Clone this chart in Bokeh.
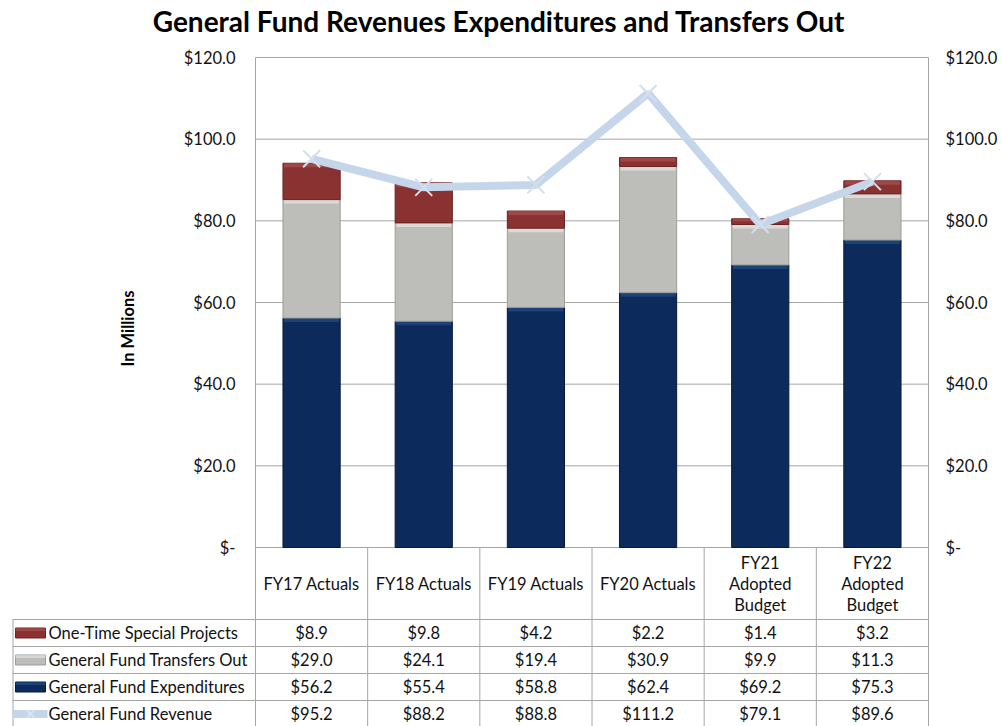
import math
from bokeh.plotting import figure
from bokeh.models import Range1d, FixedTicker, LinearAxis
from bokeh.core.properties import value
from bokeh.embed import file_html
from bokeh.resources import INLINE

# ---------------- data ----------------
categories = ["FY17 Actuals", "FY18 Actuals", "FY19 Actuals", "FY20 Actuals",
              "FY21\nAdopted\nBudget", "FY22\nAdopted\nBudget"]
one_time = [8.9, 9.8, 4.2, 2.2, 1.4, 3.2]
transfers = [29.0, 24.1, 19.4, 30.9, 9.9, 11.3]
expenditures = [56.2, 55.4, 58.8, 62.4, 69.2, 75.3]
revenue = [95.2, 88.2, 88.8, 111.2, 79.1, 89.6]
series_names = ["One-Time Special Projects", "General Fund Transfers Out",
                "General Fund Expenditures", "General Fund Revenue"]
y_ticks = [0, 20, 40, 60, 80, 100, 120]
y_tick_labels = ["$-", "$20.0", "$40.0", "$60.0", "$80.0", "$100.0", "$120.0"]
title_text = "General Fund Revenues Expenditures and Transfers Out"
y_label = "In Millions"

# ---------------- style / layout ----------------
FONT = "Lato"
FS = "16.5px"
RED, RED_HI, RED_DK = "#8A3232", "#B25A5A", "#6A2222"
GREY, GREY_HI, GREY_DK = "#BDBEBA", "#F2F2F0", "#9C9D99"
NAVY, NAVY_HI, NAVY_DK = "#0C2A5C", "#2E5590", "#061A3C"
LINE_BLUE = "#C6D6EA"
GRID = "#A6A6A6"
TXT = "#111111"

W, H = 1002, 726
n = len(categories)
U = 673 / n                  # px per category
PXU = 490 / 120              # px per value unit

def X(px):                   # page-x position -> data x (layout helper)
    return (px - 255) / U

def Y(py):                   # page-y position -> data y (layout helper)
    return (547 - py) / PXU

xs = [i + 0.5 for i in range(n)]
bar_w = 0.51
y_bot = Y(H)

p = figure(width=W, height=H, x_range=Range1d(X(0), X(W)),
           y_range=Range1d(y_bot, Y(0)), min_border=0, min_border_left=0,
           min_border_right=0, min_border_top=0, min_border_bottom=0,
           toolbar_location=None, output_backend="svg",
           x_axis_location=None, y_axis_location=None)
p.outline_line_color = None
p.xgrid.visible = False
p.ygrid.visible = False

overrides = {t: l for t, l in zip(y_ticks, y_tick_labels)}

def make_axis(loc, standoff):
    ax = LinearAxis(fixed_location=loc, bounds=(y_bot, 120))
    ax.ticker = FixedTicker(ticks=y_ticks)
    ax.major_label_overrides = overrides
    ax.axis_line_color = GRID
    ax.major_tick_line_color = None
    ax.minor_tick_line_color = None
    ax.major_tick_out = 0
    ax.major_tick_in = 0
    ax.major_label_standoff = standoff
    ax.major_label_text_font = FONT
    ax.major_label_text_font_size = FS
    ax.major_label_text_color = TXT
    return ax

p.add_layout(make_axis(0, 20), "left")
p.add_layout(make_axis(n, 17), "right")

# horizontal gridlines across the plot area
p.segment(x0=[0] * len(y_ticks), y0=y_ticks, x1=[n] * len(y_ticks),
          y1=y_ticks, line_color=GRID, line_width=1)

# stacked segments
b1 = [0.0] * n
t1 = expenditures
b2 = t1
t2 = [a + b for a, b in zip(t1, transfers)]
b3 = t2
t3 = [a + b for a, b in zip(t2, one_time)]

hi = 4 / PXU
for bot, top, col, hicol, dark in [(b1, t1, NAVY, NAVY_HI, NAVY_DK),
                                   (b2, t2, GREY, GREY_HI, GREY_DK),
                                   (b3, t3, RED, RED_HI, RED_DK)]:
    p.vbar(x=xs, bottom=bot, top=top, width=bar_w, fill_color=col,
           line_color=dark, line_width=1)
    hb = [max(t - min(hi, (t - b) * 0.45), b) for b, t in zip(bot, top)]
    p.vbar(x=xs, bottom=hb, top=top, width=bar_w - 0.02, fill_color=hicol,
           fill_alpha=0.55, line_color=None)

p.line(x=xs, y=revenue, line_width=8, line_color=LINE_BLUE)
p.scatter(x=xs, y=revenue, marker="x", size=24, line_color="#D3DFEE",
          line_width=2)

# title and axis title
p.text(x=[X(498.5)], y=[Y(20)], text=[title_text], text_font=value(FONT),
       text_font_size="28px", text_font_style="bold", text_align="center",
       text_baseline="middle", text_color="#000000")
p.text(x=[X(127)], y=[Y(328)], text=[y_label], angle=math.pi / 2,
       text_font=value(FONT), text_font_size="16.5px",
       text_font_style="bold", text_align="center", text_baseline="middle",
       text_color="#000000")

# ---------------- data table ----------------
row_edges = [Y(619), Y(646), Y(673), Y(700), Y(727)]
row_mid = [(a + b) / 2 for a, b in zip(row_edges[:-1], row_edges[1:])]

p.segment(x0=list(range(1, n)), y0=[0] * (n - 1), x1=list(range(1, n)),
          y1=[y_bot] * (n - 1), line_color=GRID, line_width=1)
p.segment(x0=[X(12.5)], y0=[row_edges[0]], x1=[X(12.5)], y1=[y_bot],
          line_color=GRID, line_width=1)
p.segment(x0=[X(12)] * 4, y0=row_edges[:4], x1=[n] * 4, y1=row_edges[:4],
          line_color=GRID, line_width=1)

# header: each category split into its lines, centred in the header cell
hdr_x, hdr_y, hdr_t = [], [], []
line_step = 21 / PXU
for i, cat in enumerate(categories):
    parts = cat.split("\n")
    k = len(parts)
    for j, part in enumerate(parts):
        hdr_x.append(xs[i])
        hdr_y.append(Y(583) - (j - (k - 1) / 2) * line_step)
        hdr_t.append(part)
p.text(x=hdr_x, y=hdr_y, text=hdr_t, text_font=value(FONT),
       text_font_size=FS, text_align="center", text_baseline="middle",
       text_color=TXT)

rows = [one_time, transfers, expenditures, revenue]
for r, vals in enumerate(rows):
    p.text(x=xs, y=[row_mid[r]] * n, text=[f"${v:.1f}" for v in vals],
           text_font=value(FONT), text_font_size=FS, text_align="center",
           text_baseline="middle", text_color=TXT)

p.text(x=[X(48)] * 4, y=row_mid, text=series_names, text_font=value(FONT),
       text_font_size=FS, text_align="left", text_baseline="middle",
       text_color=TXT)

sw_h = 5 / PXU
for r, (col, hicol, dark) in enumerate([(RED, RED_HI, RED_DK),
                                        (GREY, GREY_HI, GREY_DK),
                                        (NAVY, NAVY_HI, NAVY_DK)]):
    p.quad(left=[X(15)], right=[X(45)], top=[row_mid[r] + sw_h],
           bottom=[row_mid[r] - sw_h], fill_color=col, line_color=dark)
    p.quad(left=[X(15)], right=[X(45)], top=[row_mid[r] + sw_h],
           bottom=[row_mid[r] + sw_h * 0.4], fill_color=hicol,
           fill_alpha=0.5, line_color=None)
p.segment(x0=[X(13)], y0=[row_mid[3]], x1=[X(47)], y1=[row_mid[3]],
          line_color=LINE_BLUE, line_width=8)
p.scatter(x=[X(30)], y=[row_mid[3]], marker="x", size=12,
          line_color="#DCE6F2", line_width=1.5)

open("out.html", "w").write(file_html(p, INLINE))
